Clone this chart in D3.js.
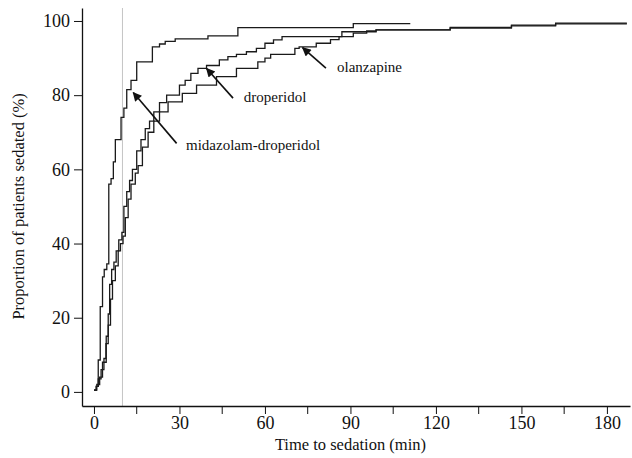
<!doctype html>
<html>
<head>
<meta charset="utf-8">
<title>Time to sedation</title>
<script src="https://cdnjs.cloudflare.com/ajax/libs/d3/7.8.5/d3.min.js"></script>
<style>
  body { margin: 0; background: #fff; }
  svg text { font-family: "Liberation Serif", "DejaVu Serif", serif; fill: #111; }
</style>
</head>
<body>
<svg id="chart" width="632" height="458"></svg>
<script>
// step curves: time (min) and cumulative % sedated
var midazolamTimes = [0, 0.8, 1.5, 2.2, 3, 3.6, 4.5, 5.2, 6, 6.8, 7.5, 9.5, 10.5, 11.5, 13, 15, 20.5, 23, 25, 28.5, 40, 50.5, 91, 111];
var midazolamPct   = [0.5, 1.5, 8.6, 23, 31, 33, 34.5, 56, 57.5, 62, 68, 74, 76.5, 81.5, 84, 89, 93, 93.8, 94.5, 95.2, 96, 98.2, 99.3, 99.3];

var droperidolTimes = [0, 0.8, 1.5, 2.5, 3.5, 4.2, 5, 5.5, 6.2, 7, 7.8, 8.7, 9.8, 10.5, 11.5, 12.5, 13.5, 15, 16.5, 18, 19.5, 21, 23, 25.5, 30, 32, 34, 36.5, 39.5, 44, 47, 50, 53.5, 57, 60, 63, 66, 87, 99, 125, 146.5, 162, 187];
var droperidolPct   = [0.5, 1.5, 3.5, 6, 9, 13, 21, 29, 33, 35, 38, 41, 43, 50, 54, 57, 60, 65, 68, 71, 73, 75.5, 78, 80, 82.7, 84, 85.9, 87.2, 88, 89.5, 90.4, 91, 91.7, 92.6, 94, 94.9, 95.8, 97.1, 97.6, 98.3, 98.9, 99.4, 99.4];

var olanzapineTimes = [0, 1, 2, 3, 4.3, 5, 5.8, 6.5, 7.5, 8.5, 9.3, 10.2, 11, 12, 13, 14.5, 15.5, 17, 19, 21, 23, 26, 31, 36, 43, 50, 57.5, 60, 62, 70.5, 72, 78, 83, 86, 91, 95.7, 99, 125, 146.5, 162, 187];
var olanzapinePct   = [0.5, 2, 4, 8, 15, 18, 25, 30, 34, 38, 40, 42, 47, 52, 56, 59, 61, 66, 70, 73, 75.5, 78.2, 80.5, 82.7, 85, 87.2, 89, 90, 91, 92.6, 93, 94, 95, 95.8, 96.7, 97.3, 97.6, 98.1, 98.7, 99.2, 99.2];

var xTicks = [0, 30, 60, 90, 120, 150, 180];
var xMinorTicks = [15, 45, 75, 105, 135, 165];
var yTicks = [0, 20, 40, 60, 80, 100];
var refLineTime = 10;

// labels: text, label position (left, middle), arrow tail, arrow tip (data units)
var labelNames = ["olanzapine", "droperidol", "midazolam-droperidol"];
var labelPos   = [[85.3, 87.1], [52.6, 79.2], [32.3, 66.1]];
var arrowFrom  = [[81.4, 87.3], [48.8, 79.2], [29, 67]];
var arrowTo    = [[73.2, 92.8], [39.5, 87.2], [13.8, 80.7]];

var svg = d3.select("#chart");
var margin = {left: 82, top: 8, right: 2, bottom: 52};
var W = 632, H = 458;

var x = d3.scaleLinear().domain([-4.2, 188.1]).range([margin.left, W - margin.right]);
var y = d3.scaleLinear().domain([-3.8, 103.5]).range([H - margin.bottom, margin.top]);

svg.append("defs").append("marker")
    .attr("id", "arrow")
    .attr("viewBox", "0 0 10 10")
    .attr("refX", 9).attr("refY", 5)
    .attr("markerWidth", 11).attr("markerHeight", 9)
    .attr("markerUnits", "userSpaceOnUse")
    .attr("orient", "auto")
  .append("path")
    .attr("d", "M0,0 L10,5 L0,10 Z")
    .attr("fill", "#111");

// grey reference line at 10 min
svg.append("line")
    .attr("x1", x(refLineTime)).attr("x2", x(refLineTime))
    .attr("y1", margin.top).attr("y2", H - margin.bottom)
    .attr("stroke", "#c4c4c4").attr("stroke-width", 1);

var line = d3.line()
    .x(function(d) { return x(d[0]); })
    .y(function(d) { return y(d[1]); })
    .curve(d3.curveStepAfter);

[[midazolamTimes, midazolamPct], [droperidolTimes, droperidolPct], [olanzapineTimes, olanzapinePct]]
  .forEach(function(s) {
    var pts = s[0].map(function(t, i) { return [t, s[1][i]]; });
    svg.append("path")
        .datum(pts)
        .attr("d", line)
        .attr("fill", "none")
        .attr("stroke", "#1a1a1a")
        .attr("stroke-width", 1.3);
  });

// axes
var xAxis = svg.append("g")
    .attr("transform", "translate(0," + (H - margin.bottom) + ")")
    .call(d3.axisBottom(x).tickValues(xTicks).tickSize(8).tickPadding(2).tickSizeOuter(0));
xAxis.append("g").selectAll("line")
    .data(xMinorTicks).join("line")
    .attr("x1", function(d) { return x(d); }).attr("x2", function(d) { return x(d); })
    .attr("y1", 0).attr("y2", 8)
    .attr("stroke", "#111");

var yAxis = svg.append("g")
    .attr("transform", "translate(" + margin.left + ",0)")
    .call(d3.axisLeft(y).tickValues(yTicks).tickSize(8).tickPadding(4).tickSizeOuter(0));

svg.selectAll(".domain").attr("stroke", "#111").attr("stroke-width", 1.3);
svg.selectAll(".tick line").attr("stroke", "#111");
svg.selectAll(".tick text").attr("font-size", 18).attr("font-family", "Liberation Serif").attr("fill", "#111");

svg.append("text")
    .attr("x", (x(0) + x(180)) / 2)
    .attr("y", 450)
    .attr("text-anchor", "middle")
    .attr("font-size", 16.5)
    .text("Time to sedation (min)");

svg.append("text")
    .attr("transform", "translate(24," + y(50) + ") rotate(-90)")
    .attr("text-anchor", "middle")
    .attr("font-size", 16.5)
    .text("Proportion of patients sedated (%)");

// annotations
labelNames.forEach(function(name, i) {
  svg.append("line")
      .attr("x1", x(arrowFrom[i][0])).attr("y1", y(arrowFrom[i][1]))
      .attr("x2", x(arrowTo[i][0])).attr("y2", y(arrowTo[i][1]))
      .attr("stroke", "#111").attr("stroke-width", 1.6)
      .attr("marker-end", "url(#arrow)");
  svg.append("text")
      .attr("x", x(labelPos[i][0])).attr("y", y(labelPos[i][1]))
      .attr("dominant-baseline", "middle")
      .attr("font-size", 15)
      .text(name);
});
</script>
</body>
</html>
